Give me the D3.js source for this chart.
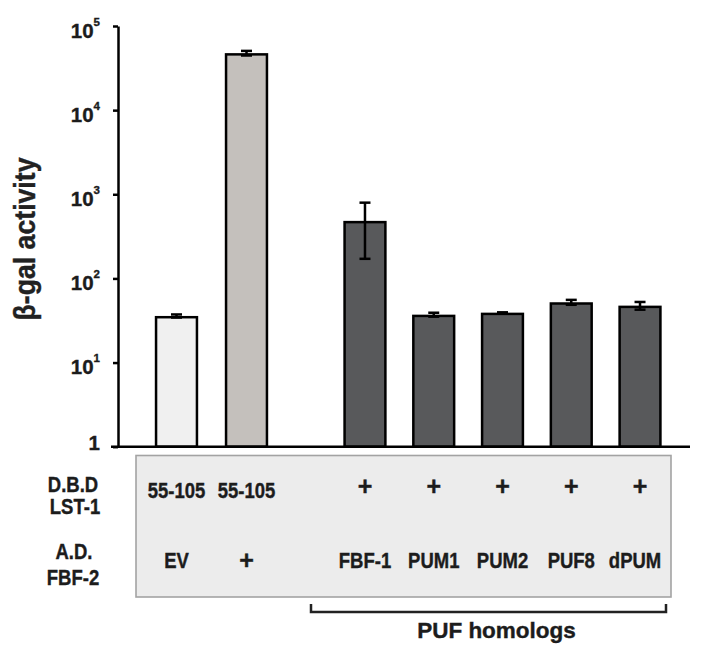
<!DOCTYPE html>
<html>
<head>
<meta charset="utf-8">
<script src="https://cdn.jsdelivr.net/npm/d3@7"></script>
<style>
  body { margin: 0; background: #fff; }
  svg { display: block; }
  .nb { font-family: "Liberation Sans Narrow", "Arial Narrow", sans-serif; font-weight: bold; fill: #1c1c1c; stroke: #1c1c1c; stroke-width: 0.35px; }
  .cb { font-family: "Liberation Sans", Arial, sans-serif; font-weight: bold; fill: #1c1c1c; stroke: #1c1c1c; stroke-width: 0.4px; }
</style>
</head>
<body>
<div id="chart"></div>
<script>
var W = 701, H = 662;

// data
var ctrlIds = ["EV", "FBF-2"];
var pufIds = ["FBF-1", "PUM1", "PUM2", "PUF8", "dPUM"];
var barIds = ctrlIds.concat(pufIds);
var values = [35.8, 47600, 483, 37.1, 39.2, 52.1, 47.5];
var errors = [1.5, 3000, 312, 2, 0.3, 3.5, 5];
var barGroup = ["ev", "pos", "puf", "puf", "puf", "puf", "puf"];
var dbdRow = ["55-105", "55-105", "+", "+", "+", "+", "+"];
var adRow = ["EV", "+", "FBF-1", "PUM1", "PUM2", "PUF8", "dPUM"];
var yTicks = [1, 10, 100, 1000, 10000, 100000];

var data = barIds.map(function(id, i) {
  return {id: id, v: values[i], e: errors[i], g: barGroup[i], dbd: dbdRow[i], ad: adRow[i], ctrl: i < ctrlIds.length};
});

var fill = d3.scaleOrdinal().domain(["ev", "pos", "puf"]).range(["#f0f0f0", "#c4c0bc", "#58595b"]);
var squeeze = 0.86; // the original lettering is a slightly condensed bold sans

var svg = d3.select("#chart").append("svg").attr("width", W).attr("height", H);

var y = d3.scaleLog().domain([1, 100000]).range([446.7, 26]);
var xCtrl = d3.scaleBand().domain(ctrlIds).range([141.5, 281.5]).paddingInner(0.38).paddingOuter(0.19);
var xPuf = d3.scaleBand().domain(pufIds).range([330.6, 674.4]).paddingInner(0.37).paddingOuter(0.185);
function xs(d) { return d.ctrl ? xCtrl : xPuf; }
function cx(d) { return xs(d)(d.id) + xs(d).bandwidth() / 2; }

// table box behind the labels
svg.append("rect")
  .attr("x", 136).attr("y", 455.5).attr("width", 535).attr("height", 141.5)
  .attr("fill", "#ececec").attr("stroke", "#a3a3a3").attr("stroke-width", 1.6);

// bars
svg.selectAll(".bar").data(data).join("rect")
  .attr("class", "bar")
  .attr("x", function(d) { return xs(d)(d.id) + 1.25; })
  .attr("width", function(d) { return xs(d).bandwidth() - 2.5; })
  .attr("y", function(d) { return y(d.v) + 1.25; })
  .attr("height", function(d) { return y(1) - y(d.v) - 1.25; })
  .attr("fill", function(d) { return fill(d.g); })
  .attr("stroke", "#000").attr("stroke-width", 2.5);

// error bars
var eb = svg.selectAll(".err").data(data).join("g").attr("class", "err")
  .attr("stroke", "#000").attr("stroke-width", 2.5);
eb.append("line")
  .attr("x1", cx).attr("x2", cx)
  .attr("y1", function(d) { return y(d.v + d.e); })
  .attr("y2", function(d) { return y(d.v - d.e); });
eb.append("line")
  .attr("x1", function(d) { return cx(d) - 5.5; }).attr("x2", function(d) { return cx(d) + 5.5; })
  .attr("y1", function(d) { return y(d.v + d.e); }).attr("y2", function(d) { return y(d.v + d.e); });
eb.append("line")
  .attr("x1", function(d) { return cx(d) - 5.5; }).attr("x2", function(d) { return cx(d) + 5.5; })
  .attr("y1", function(d) { return y(d.v - d.e); }).attr("y2", function(d) { return y(d.v - d.e); });

// axes
var yAxis = svg.append("g")
  .attr("transform", "translate(118,0)")
  .call(d3.axisLeft(y).tickValues(yTicks).tickSize(5).tickSizeOuter(0).tickFormat(""));
yAxis.select(".domain").attr("stroke", "#000").attr("stroke-width", 2.5);
yAxis.selectAll(".tick line").attr("stroke", "#000").attr("stroke-width", 2.5);
yAxis.selectAll(".tick").each(function(d) {
  var t = d3.select(this).append("text").attr("class", "nb")
    .attr("x", -18).attr("text-anchor", "end").style("font-size", "20.5px");
  if (d === 1) {
    t.attr("y", 3).text("1");
  } else {
    t.attr("y", 11);
    t.append("tspan").text("10");
    t.append("tspan").attr("dy", -12).style("font-size", "11.5px").text(Math.round(Math.log10(d)));
  }
});

svg.append("line")
  .attr("x1", 111).attr("x2", 690)
  .attr("y1", y(1)).attr("y2", y(1))
  .attr("stroke", "#000").attr("stroke-width", 2.5);

svg.append("text").attr("class", "cb")
  .attr("transform", "translate(35,239) rotate(-90)")
  .attr("text-anchor", "middle")
  .attr("textLength", 163).attr("lengthAdjust", "spacingAndGlyphs")
  .style("font-size", "30px").style("fill", "#222")
  .text("β-gal activity");

// writes condensed bold text at (x, y)
function label(g, x, yy, txt, size) {
  return g.append("text").attr("class", "cb")
    .attr("transform", "translate(" + x + "," + yy + ") scale(" + squeeze + ",1)")
    .attr("text-anchor", "middle").style("font-size", size + "px")
    .text(txt);
}

// table labels
var tab = svg.append("g");
label(tab, 73, 492, "D.B.D", 21.5);
label(tab, 75, 514, "LST-1", 21.5);
label(tab, 74, 559, "A.D.", 21.5);
label(tab, 73, 585, "FBF-2", 21.5);

data.forEach(function(d, i) {
  if (d.dbd === "+") {
    tab.append("text").attr("class", "cb").attr("x", cx(d)).attr("y", 495)
      .attr("text-anchor", "middle").style("font-size", "25px").text(d.dbd);
  } else {
    label(tab, cx(d), 498, d.dbd, 21.5);
  }
  if (d.ad === "+") {
    tab.append("text").attr("class", "cb").attr("x", cx(d)).attr("y", 569)
      .attr("text-anchor", "middle").style("font-size", "25px").text(d.ad);
  } else {
    label(tab, i === data.length - 1 ? cx(d) - 5 : cx(d), 568, d.ad, 21.5);
  }
});

// PUF homologs bracket
var bx0 = 311, bx1 = 666;
svg.append("path")
  .attr("d", "M" + bx0 + ",604V612H" + bx1 + "V604")
  .attr("fill", "none").attr("stroke", "#222").attr("stroke-width", 2.5);
svg.append("text").attr("class", "cb")
  .attr("x", (bx0 + bx1) / 2 + 8).attr("y", 638)
  .attr("text-anchor", "middle")
  .style("font-size", "22.5px")
  .text("PUF homologs");
</script>
</body>
</html>
